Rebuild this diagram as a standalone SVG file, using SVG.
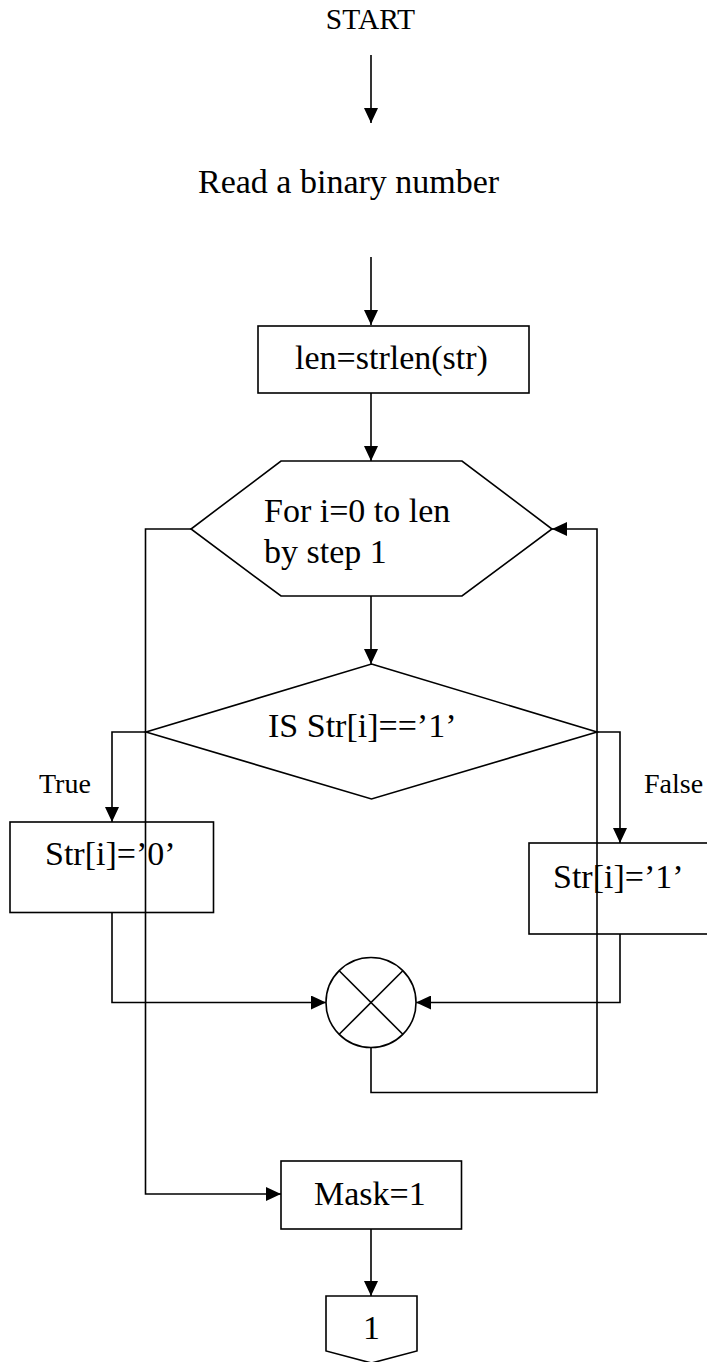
<svg xmlns="http://www.w3.org/2000/svg" width="707" height="1362" viewBox="0 0 707 1362">
<style>
  .t { font-family: "Liberation Serif", "Times New Roman", serif; font-size: 34px; fill: #000; }
  .lbl { font-family: "Liberation Serif", "Times New Roman", serif; font-size: 28px; fill: #000; }
  .shape { fill: #fff; stroke: #000; stroke-width: 1.6; }
  .conn { fill: none; stroke: #000; stroke-width: 1.6; marker-end: url(#arr); }
  .plain { fill: none; stroke: #000; stroke-width: 1.6; }
</style>
<defs>
  <marker id="arr" viewBox="0 0 15 14" refX="15" refY="7" markerWidth="15" markerHeight="14" markerUnits="userSpaceOnUse" orient="auto">
    <path d="M0,0 L15,7 L0,14 Z" fill="#000"/>
  </marker>
</defs>
<rect width="707" height="1362" fill="#fff"/>

<g id="start">
  <text class="t" x="370.5" y="29" text-anchor="middle" style="font-size:29.5px">START</text>
</g>
<g id="read">
  <text class="t" x="198" y="193">Read a binary number</text>
</g>
<g id="len">
  <rect class="shape" x="258" y="326" width="271" height="67"/>
  <text class="t" x="295" y="369">len=strlen(str)</text>
</g>
<g id="loop">
  <polygon class="shape" points="281,461 462,461 552,529 462,596 281,596 191,529"/>
  <text class="t" x="264" y="522">For i=0 to len</text>
  <text class="t" x="264" y="563">by step 1</text>
</g>
<g id="decision">
  <polygon class="shape" points="371.5,664 597,732 371.5,799 146,732"/>
  <text class="t" x="268" y="737">IS Str[i]==&#8217;1&#8217;</text>
</g>
<g id="labels">
  <text class="lbl" x="39" y="793">True</text>
  <text class="lbl" x="644" y="793">False</text>
</g>
<g id="set0">
  <rect class="shape" x="10" y="822" width="203.5" height="90.5"/>
  <text class="t" x="45" y="865">Str[i]=&#8217;0&#8217;</text>
</g>
<g id="set1">
  <rect class="shape" x="529" y="843" width="181" height="91"/>
  <text class="t" x="553" y="888">Str[i]=&#8217;1&#8217;</text>
</g>
<g id="merge">
  <circle class="shape" cx="371" cy="1002.5" r="45"/>
  <line class="plain" x1="339.2" y1="970.7" x2="402.8" y2="1034.3"/>
  <line class="plain" x1="402.8" y1="970.7" x2="339.2" y2="1034.3"/>
</g>
<g id="mask">
  <rect class="shape" x="281" y="1161" width="180.5" height="68"/>
  <text class="t" x="314" y="1205">Mask=1</text>
</g>
<g id="offpage">
  <polygon class="shape" points="326,1296 417,1296 417,1351 371.5,1363 326,1351"/>
  <text class="t" x="371.5" y="1339" text-anchor="middle">1</text>
</g>

<g id="connectors">
  <path class="conn" d="M371,55 V123"/>
  <path class="conn" d="M371,257 V325"/>
  <path class="conn" d="M371,393 V461"/>
  <path class="conn" d="M371,596 V664"/>
  <path class="conn" d="M146,732 H112 V822"/>
  <path class="conn" d="M597,732 H620 V843"/>
  <path class="conn" d="M112,912.5 V1002.5 H326"/>
  <path class="conn" d="M620,934 V1002.5 H416"/>
  <path class="conn" d="M371,1047.5 V1092.5 H597 V529 H552"/>
  <path class="conn" d="M191,529 H145.5 V1194 H281"/>
  <path class="conn" d="M371,1229 V1296"/>
</g>
</svg>
